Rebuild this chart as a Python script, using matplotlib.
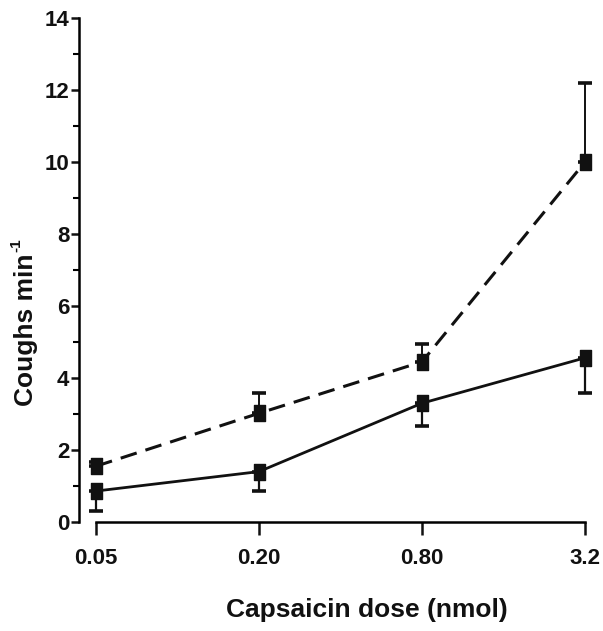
import matplotlib
matplotlib.use("Agg")
import matplotlib.pyplot as plt
from matplotlib.path import Path
import numpy as np

plt.rcParams['font.family'] = ['Liberation Sans', 'DejaVu Sans']

# data
doses = [0.05, 0.20, 0.80, 3.2]
dose_labels = ["0.05", "0.20", "0.80", "3.2"]
dashed_mean = [1.55, 3.02, 4.45, 10.0]
dashed_sem = [0.12, 0.55, 0.50, 2.2]     # upper bars
solid_mean = [0.86, 1.40, 3.30, 4.56]
solid_sem = [0.55, 0.53, 0.63, 0.97]     # lower bars
y_ticks = [0, 2, 4, 6, 8, 10, 12, 14]

W, H = 603, 631
fig = plt.figure(figsize=(W / 100, H / 100), dpi=100)
left_px, right_px = 79, 600
bot_px, top_px = 522, 18
ax = fig.add_axes([left_px / W, (H - bot_px) / H, (right_px - left_px) / W, (bot_px - top_px) / H])

ax.set_xscale('log')
ax.set_xlim(0.05 / 4 ** (17 / 163), 3.2 * 4 ** (15 / 163))
ax.set_ylim(0, 14)

rect = Path([(-0.36, -0.5), (0.36, -0.5), (0.36, 0.5), (-0.36, 0.5), (-0.36, -0.5)],
            [Path.MOVETO, Path.LINETO, Path.LINETO, Path.LINETO, Path.CLOSEPOLY])

zero = [0] * len(doses)
ax.errorbar(doses, dashed_mean, yerr=[zero, dashed_sem], fmt='none', ecolor='#111111',
            elinewidth=1.4, capsize=5, capthick=2.6, zorder=2)
ax.errorbar(doses, solid_mean, yerr=[solid_sem, zero], fmt='none', ecolor='#111111',
            elinewidth=1.6, capsize=5, capthick=2.6, zorder=2)
ax.plot(doses, dashed_mean, color='#111111', lw=2.2, linestyle=(0, (5.5, 3)),
        marker=rect, markersize=11, markerfacecolor='#111111', markeredgecolor='#111111', zorder=3)
ax.plot(doses, solid_mean, color='#111111', lw=2.0, linestyle='-',
        marker=rect, markersize=11, markerfacecolor='#111111', markeredgecolor='#111111', zorder=3)

# spines
for s in ['top', 'right']:
    ax.spines[s].set_visible(False)
ax.spines['left'].set_linewidth(1.8)
ax.spines['bottom'].set_linewidth(1.8)
ax.spines['bottom'].set_bounds(doses[0], doses[-1])
ax.spines['left'].set_bounds(0, 14)

ax.set_xticks(doses)
ax.set_xticklabels(dose_labels)
ax.xaxis.set_minor_locator(matplotlib.ticker.NullLocator())
ax.set_yticks(y_ticks)
ax.set_yticks(np.arange(1, 14, 2), minor=True)
ax.tick_params(axis='x', which='major', direction='out', length=9, width=1.8, pad=10,
               labelsize=16, colors='#111111')
ax.tick_params(axis='y', which='major', direction='out', length=6, width=1.8, pad=1,
               labelsize=16, colors='#111111')
ax.tick_params(axis='y', which='minor', direction='out', length=4, width=1.5)
for lab in ax.get_xticklabels() + ax.get_yticklabels():
    lab.set_fontweight('bold')

fig.text(367 / W, 1 - 617 / H, "Capsaicin dose (nmol)", ha='center', va='baseline',
         fontsize=19, fontweight='bold', color='#111111')
fig.text(26 / W, 1 - 330 / H, "Coughs min", rotation=90, ha='center', va='center',
         fontsize=19, fontweight='bold', color='#111111')
fig.text(16 / W, 1 - 245 / H, "-1", rotation=90, ha='center', va='center',
         fontsize=11, fontweight='bold', color='#111111')

fig.savefig("out.png", dpi=100)
